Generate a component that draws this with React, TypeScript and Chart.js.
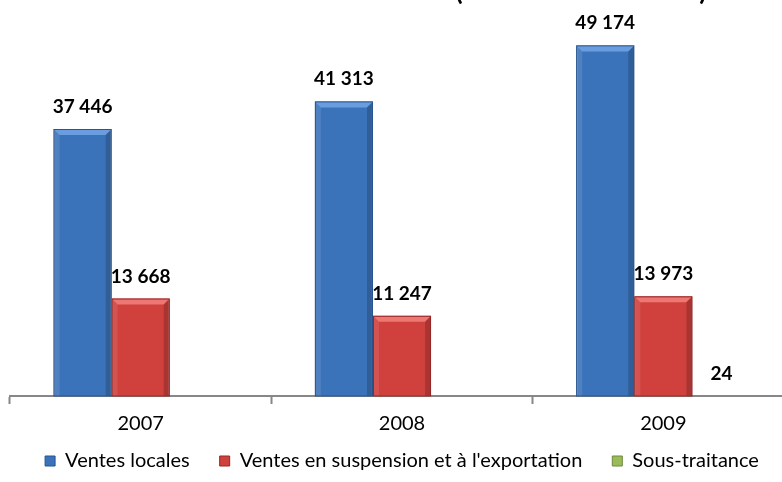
import { useEffect, useRef } from "react";
import { Chart, registerables } from "chart.js";

Chart.register(...registerables);

const TITLE = "Évolution du chiffre d'affaires (en milliers de dinars)";
const YEARS = ["2007", "2008", "2009"];
const SERIES_NAMES = [
  "Ventes locales",
  "Ventes en suspension et à l'exportation",
  "Sous-traitance",
];
const VENTES_LOCALES = [37446, 41313, 49174];
const VENTES_EXPORT = [13668, 11247, 13973];
const SOUS_TRAITANCE: (number | null)[] = [null, null, 24];
const Y_MAX = 54500;

const FONT = "Lato, 'Open Sans', sans-serif";

const PALETTE = [
  { base: "#3b73ba", light: "#6a9de0", dark: "#28558e" },
  { base: "#d0403d", light: "#ec7773", dark: "#962826" },
  { base: "#9bbb59", light: "#c0d98a", dark: "#6f8a3c" },
];

function fmt(v: number): string {
  return String(v).replace(/\B(?=(\d{3})+(?!\d))/g, " ");
}

const bevelAndLabels = {
  id: "bevelAndLabels",
  afterDatasetsDraw(chart: any) {
    const ctx = chart.ctx as CanvasRenderingContext2D;
    chart.data.datasets.forEach((ds: any, di: number) => {
      const meta = chart.getDatasetMeta(di);
      const pal = PALETTE[di];
      meta.data.forEach((el: any, i: number) => {
        const v = ds.data[i];
        if (v === null || v === undefined) return;
        const { x, y, base, width } = el.getProps(["x", "y", "base", "width"], true);
        const left = x - width / 2;
        const right = x + width / 2;
        const top = Math.min(y, base);
        const bottom = Math.max(y, base);
        const h = bottom - top;
        if (h > 2) {
          const b = Math.min(6, h / 2);
          ctx.save();
          ctx.beginPath();
          ctx.moveTo(left, top);
          ctx.lineTo(right, top);
          ctx.lineTo(right - b, top + b);
          ctx.lineTo(left + b, top + b);
          ctx.closePath();
          ctx.fillStyle = pal.light;
          ctx.fill();
          ctx.beginPath();
          ctx.moveTo(left, top);
          ctx.lineTo(left + b, top + b);
          ctx.lineTo(left + b, bottom);
          ctx.lineTo(left, bottom);
          ctx.closePath();
          ctx.fillStyle = "rgba(255,255,255,0.10)";
          ctx.fill();
          ctx.beginPath();
          ctx.moveTo(right, top);
          ctx.lineTo(right - b, top + b);
          ctx.lineTo(right - b, bottom);
          ctx.lineTo(right, bottom);
          ctx.closePath();
          ctx.fillStyle = "rgba(0,0,0,0.18)";
          ctx.fill();
          ctx.strokeStyle = pal.dark;
          ctx.lineWidth = 1;
          ctx.strokeRect(left + 0.5, top + 0.5, width - 1, h - 0.5);
          ctx.restore();
        }
        ctx.save();
        ctx.font = `bold 19px ${FONT}`;
        ctx.fillStyle = "#000";
        ctx.textAlign = "center";
        ctx.textBaseline = "alphabetic";
        ctx.fillText(fmt(v), x, top - 16);
        ctx.restore();
      });
    });
  },
};

export default function App() {
  const ref = useRef<HTMLCanvasElement | null>(null);

  useEffect(() => {
    if (!ref.current) return;
    const datasets = [VENTES_LOCALES, VENTES_EXPORT, SOUS_TRAITANCE].map((d, i) => ({
      label: SERIES_NAMES[i],
      data: d,
      backgroundColor: PALETTE[i].base,
      borderColor: PALETTE[i].dark,
      borderWidth: 1,
      categoryPercentage: 0.667,
      barPercentage: 1,
    }));
    const chart = new Chart(ref.current, {
      type: "bar",
      data: { labels: YEARS, datasets },
      options: {
        animation: false,
        responsive: true,
        maintainAspectRatio: false,
        layout: { padding: { left: 10, right: 10, top: 0, bottom: 0 } },
        scales: {
          x: {
            grid: {
              display: true,
              drawOnChartArea: false,
              drawTicks: true,
              tickLength: 8,
              tickWidth: 2,
              color: "#878787",
              offset: true,
            },
            border: { display: true, color: "#878787", width: 2 },
            ticks: {
              padding: 8,
              color: "#000",
              font: { family: FONT, size: 20 },
            },
            afterFit: (scale: any) => {
              scale.height = 25;
              scale._computeLabelArea = () => undefined;
            },
          },
          y: {
            display: false,
            min: 0,
            max: Y_MAX,
          },
        },
        plugins: {
          title: {
            display: true,
            text: TITLE,
            color: "#000",
            font: { family: FONT, size: 27, weight: "bold" },
            padding: { top: 0, bottom: 0 },
          },
          legend: {
            position: "bottom",
            labels: {
              boxWidth: 10,
              boxHeight: 10,
              padding: 30,
              color: "#000",
              font: { family: FONT, size: 20 },
            },
          },
          tooltip: { enabled: false },
        },
      },
      plugins: [bevelAndLabels],
    });
    return () => chart.destroy();
  }, []);

  return (
    <div
      style={{
        position: "absolute",
        left: 0,
        top: -25,
        width: 804,
        height: 506,
      }}
    >
      <canvas ref={ref} />
    </div>
  );
}
